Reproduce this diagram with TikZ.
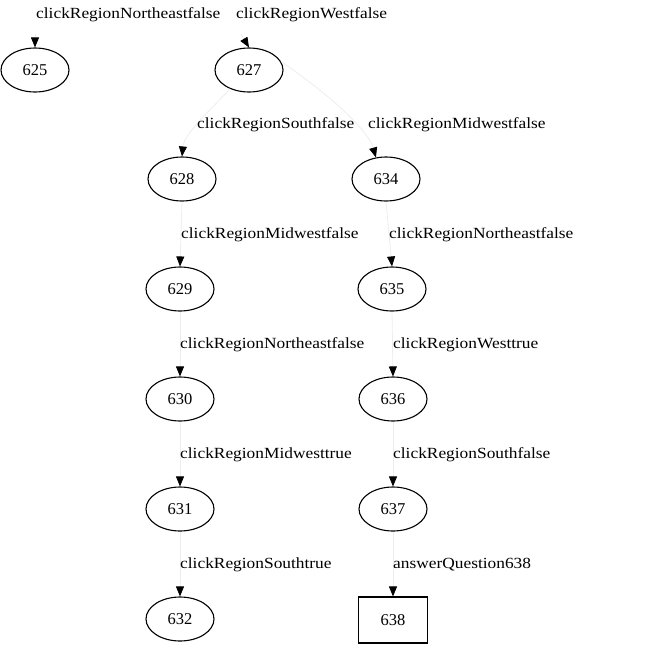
\documentclass[tikz,border=0pt]{standalone}
\usepackage{fontspec}
\setmainfont{Liberation Serif}
\newfontfamily\lblfont[FakeStretch=1.12]{Liberation Serif}
\usetikzlibrary{shapes.geometric,arrows.meta}
\begin{document}
\begin{tikzpicture}[x=1pt,y=-1pt,
  st/.style={draw=black,line width=1.1pt,ellipse,minimum width=68pt,minimum height=44pt,inner sep=0pt,font=\fontsize{16.5}{18}\selectfont},
  fin/.style={draw=black,line width=1.1pt,rectangle,minimum width=69pt,minimum height=46pt,inner sep=0pt,font=\fontsize{16.5}{18}\selectfont},
  edge/.style={draw=black!7,line width=0.8pt,-{Triangle[length=10pt,width=8pt,color=black,fill=black]}},
  lbl/.style={anchor=base west,inner sep=0pt,font=\lblfont\fontsize{15.5}{17}\selectfont}]
\useasboundingbox (0,0) rectangle (651,667);
\node[st] (n625) at (35,70) {625};
\node[st] (n627) at (249,70) {627};
\node[st] (n628) at (182,179) {628};
\node[st] (n634) at (386,179) {634};
\node[st] (n629) at (180,289) {629};
\node[st] (n635) at (392,289) {635};
\node[st] (n630) at (180,399) {630};
\node[st] (n636) at (393,399) {636};
\node[st] (n631) at (180,509) {631};
\node[st] (n637) at (393,509) {637};
\node[st] (n632) at (180,619) {632};
\node[fin] (n638) at (393,620) {638};
\coordinate (t625) at (35,34);
\coordinate (t627) at (241,34);
\draw[edge] (t625) -- (n625.north);
\draw[edge] (t627) -- (n627.north);
\draw[edge] (n627.225) .. controls (205,115) and (184,135) .. (n628.north);
\draw[edge] (n627.15) .. controls (330,95) and (368,130) .. (n634.115);
\draw[edge] (n628.south) -- (n629.north);
\draw[edge] (n629.south) -- (n630.north);
\draw[edge] (n630.south) -- (n631.north);
\draw[edge] (n631.south) -- (n632.north);
\draw[edge] (n634.south) -- (n635.north);
\draw[edge] (n635.south) -- (n636.north);
\draw[edge] (n636.south) -- (n637.north);
\draw[edge] (n637.south) -- (n638.north);
\node[lbl] (l1) at (36,18.5) {clickRegionNortheastfalse};
\node[lbl] (l2) at (236,18.5) {clickRegionWestfalse};
\node[lbl] (l3) at (197,128) {clickRegionSouthfalse};
\node[lbl] (l4) at (368,128) {clickRegionMidwestfalse};
\node[lbl] (l5) at (181,238) {clickRegionMidwestfalse};
\node[lbl] (l6) at (389,238) {clickRegionNortheastfalse};
\node[lbl] (l7) at (180,348) {clickRegionNortheastfalse};
\node[lbl] (l8) at (393,348) {clickRegionWesttrue};
\node[lbl] (l9) at (180,458) {clickRegionMidwesttrue};
\node[lbl] (l10) at (393,458) {clickRegionSouthfalse};
\node[lbl] (l11) at (180,568) {clickRegionSouthtrue};
\node[lbl] (l12) at (393,568) {answerQuestion638};
\end{tikzpicture}
\end{document}
